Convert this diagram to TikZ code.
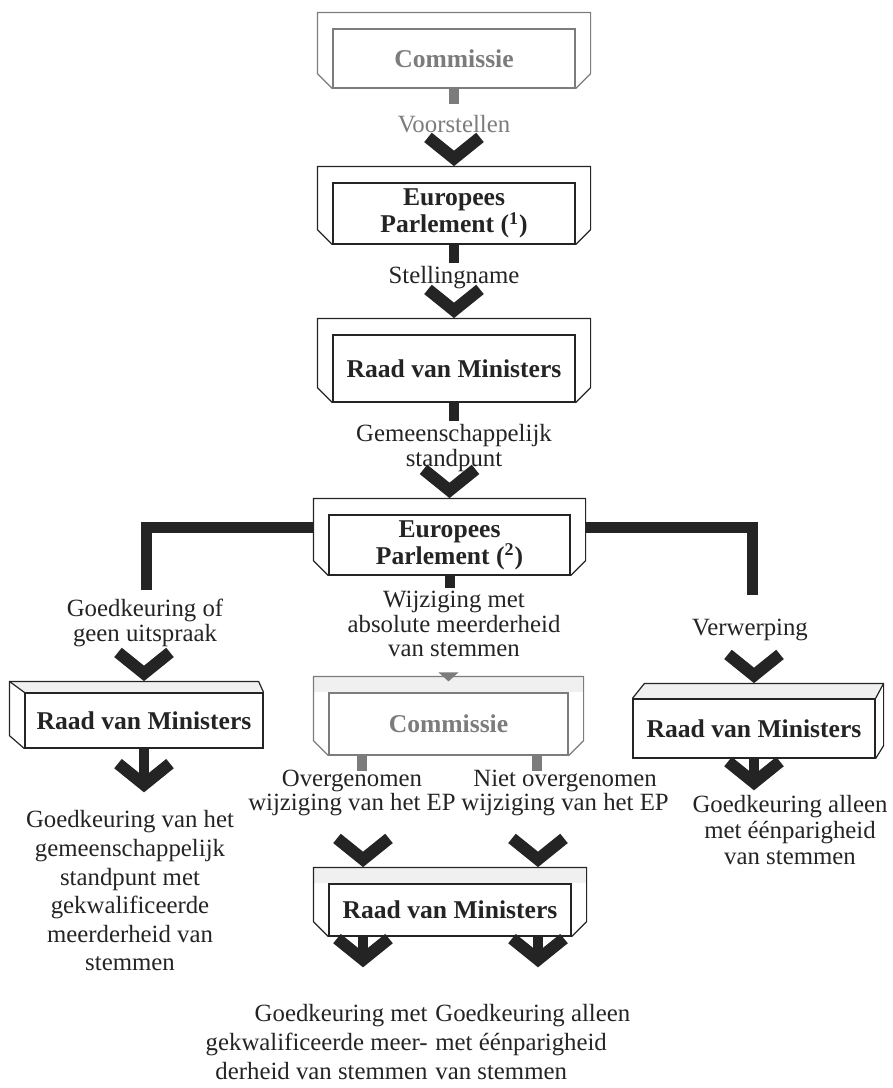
\documentclass[tikz,border=0pt]{standalone}
\usepackage{fontspec}
\setmainfont{Liberation Serif}
\usetikzlibrary{backgrounds}

\definecolor{ink}{HTML}{242424}
\definecolor{pale}{HTML}{7C7C7C}

\tikzset{
  ibox/.style={draw=ink,line width=0.6pt,fill=white,inner sep=0pt,align=center,
    font=\fontsize{12.8pt}{13.6pt}\bfseries\selectfont,text=ink,
    minimum width=121pt,minimum height=#1},
  lbl/.style={font=\fontsize{12.4pt}{#1}\selectfont,text=ink,align=center,inner sep=0pt},
  lbl/.default=12.4pt,
  rim/.style={draw=ink,line width=0.6pt},
  band/.style={fill=black!6},
  stub/.style={draw=ink,line width=5pt},
  thickbar/.style={draw=ink,line width=5.5pt,line join=miter},
  veeline/.style={draw=ink,line width=6pt,line join=miter,miter limit=10},
  vee/.pic={\draw[veeline] (-26,-29) -- (0,-8) -- (26,-29);}
}

% frame round a box: outer rim with bevelled lower corners
\newcommand{\trayframe}[2][ink]{%
  \draw[rim,draw=#1] (#2.south east) -- ([shift={(15,-15)}]#2.south east)
    -- ([shift={(15,-16)}]#2.north east) -- ([shift={(-15,-16)}]#2.north west)
    -- ([shift={(-15,-15)}]#2.south west) -- (#2.south west);}
\newcommand{\trayband}[1]{%
  \fill[band] ([shift={(-15,-16)}]#1.north west) rectangle ([shift={(15,0)}]#1.north east);}

\begin{document}
\begin{tikzpicture}[x=0.5pt,y=-0.5pt]
\useasboundingbox (0,0) rectangle (893,1088);

% boxes
\node[ibox=29.5pt,draw=pale,text=pale] (com1) at (454,58.5) {Commissie};
\node[ibox=30.5pt] (ep1) at (454,213.5) {Europees\\Parlement (\textsuperscript{1})};
\node[ibox=33.5pt] (raad1) at (454,368.5) {Raad van Ministers};
\node[ibox=30pt,minimum width=120.5pt] (ep2) at (449.5,545) {Europees\\Parlement (\textsuperscript{2})};
\node[ibox=31pt,minimum width=119.5pt,draw=pale,text=pale] (com2) at (448.5,724) {Commissie};
\node[ibox=26pt] (raad4) at (450,910) {Raad van Ministers};
\node[ibox=27.5pt,minimum width=119pt] (raadL) at (144,720.5) {Raad van Ministers};
\node[ibox=29.5pt] (raadR) at (754,728.5) {Raad van Ministers};

\begin{scope}[on background layer]
\trayband{com2}
\trayband{raad4}
\fill[band] ([shift={(-15,-11)}]raadL.north west) -- ([shift={(-5,-11)}]raadL.north east)
  -- (raadL.north east) -- (raadL.north west) -- cycle;
\fill[band] (raadR.north west) -- ([shift={(12,-15)}]raadR.north west)
  -- ([shift={(8,-15)}]raadR.north east) -- (raadR.north east) -- cycle;
\end{scope}

\trayframe[pale]{com1}
\trayframe{ep1}
\trayframe{raad1}
\trayframe{ep2}
\trayframe[pale]{com2}
\trayframe{raad4}

% slab boxes
\draw[rim] (raadL.north east) -- ([shift={(-5,-11)}]raadL.north east)
  -- ([shift={(-15,-11)}]raadL.north west) -- ([shift={(-15,-13)}]raadL.south west)
  -- (raadL.south west);
\draw[rim] ([shift={(-15,-11)}]raadL.north west) -- (raadL.north west);
\draw[rim] (raadR.north west) -- ([shift={(12,-15)}]raadR.north west)
  -- ([shift={(8,-15)}]raadR.north east) -- ([shift={(8,-13)}]raadR.south east)
  -- (raadR.south east);
\draw[rim] ([shift={(8,-15)}]raadR.north east) -- (raadR.north east);

% labels
\node[lbl,text=pale] (tVoor) at (454,124) {Voorstellen};
\node[lbl] (tStel) at (454,278) {Stellingname};
\node[lbl=12.1pt] (tGem) at (454,448) {Gemeenschappelijk\\standpunt};
\node[lbl=12.2pt] (tGoed) at (145,623) {Goedkeuring of\\geen uitspraak};
\node[lbl=12.4pt] (tWijz) at (454,624) {Wijziging met\\absolute meerderheid\\van stemmen};
\node[lbl] (tVerw) at (750,630) {Verwerping};
\node[lbl=12.1pt,anchor=east] (tOver) at (456,793) {Overgenomen\\wijziging van het EP};
\node[lbl=12.1pt,anchor=west] (tNiet) at (461,793) {Niet overgenomen\\wijziging van het EP};
\node[lbl=14.3pt] (tLeft) at (130,891) {Goedkeuring van het\\gemeenschappelijk\\standpunt met\\gekwalificeerde\\meerderheid van\\stemmen};
\node[lbl=12.8pt] (tRight) at (790,830) {Goedkeuring alleen\\met éénparigheid\\van stemmen};
\node[lbl=14.7pt,align=right,anchor=east] (tBL) at (428,1042) {Goedkeuring met\\gekwalificeerde meer-\\derheid van stemmen};
\node[lbl=14.7pt,align=left,anchor=west] (tBR) at (435,1042) {Goedkeuring alleen\\met éénparigheid\\van stemmen};

\coordinate (lbarend) at (146,590);
\coordinate (rbarend) at (752,595);

% stubs and arrows
\draw[stub,draw=pale] (com1.south) -- ++(0,15);
\pic at ([shift={(0,-16)}]ep1.north) {vee};
\draw[stub] (ep1.south) -- ++(0,18);
\pic at ([shift={(0,-16)}]raad1.north) {vee};
\draw[stub] (raad1.south) -- ++(0,18);
\pic at ([shift={(0,-16)}]ep2.north) {vee};
\draw[thickbar] ([shift={(-15,13)}]ep2.north west) -| (lbarend);
\draw[thickbar] ([shift={(15,13)}]ep2.north east) -| (rbarend);
\draw[stub] (ep2.south) -- ++(0,12);
\pic at ([shift={(0,-11)}]raadL.north) {vee};
\pic at ([shift={(0,-15)}]raadR.north) {vee};
\fill[pale] ([shift={(-10,-20)}]com2.north) -- ([shift={(10,-20)}]com2.north)
  -- ([shift={(0,-11)}]com2.north) -- cycle;
\draw[stub,draw=pale] ([shift={(-87,0)}]com2.south) -- ++(0,15);
\draw[stub,draw=pale] ([shift={(88,0)}]com2.south) -- ++(0,15);
\pic at ([shift={(-87,-16)}]raad4.north) {vee};
\pic at ([shift={(88,-16)}]raad4.north) {vee};
\draw[stub] (raadL.south) -- ++(0,36);
\pic at ([shift={(0,44)}]raadL.south) {vee};
\draw[stub] (raadR.south) -- ++(0,24);
\pic at ([shift={(0,32)}]raadR.south) {vee};
\draw[stub] ([shift={(-87,0)}]raad4.south) -- ++(0,24);
\pic at ([shift={(-87,31)}]raad4.south) {vee};
\draw[stub] ([shift={(88,0)}]raad4.south) -- ++(0,24);
\pic at ([shift={(88,31)}]raad4.south) {vee};
\end{tikzpicture}
\end{document}
